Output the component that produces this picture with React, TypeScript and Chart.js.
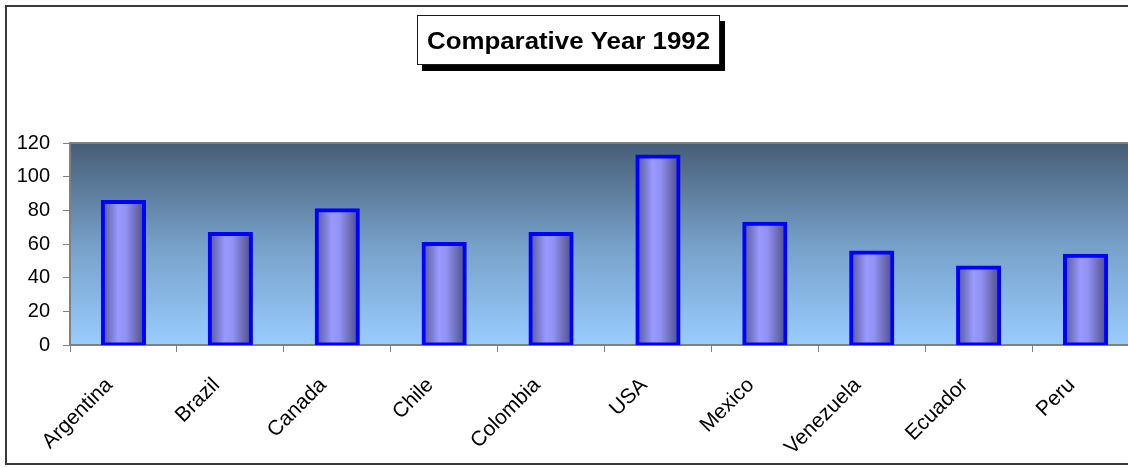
import React, { useEffect, useRef } from "react";
import { Chart, registerables } from "chart.js";

Chart.register(...registerables);

// Data
const countries = [
  "Argentina",
  "Brazil",
  "Canada",
  "Chile",
  "Colombia",
  "USA",
  "Mexico",
  "Venezuela",
  "Ecuador",
  "Peru",
];
const values1992 = [85, 66, 80, 60, 66, 112, 72, 55, 46, 53];
const yTickValues = [0, 20, 40, 60, 80, 100, 120];
const titleText = "Comparative Year 1992";

const FONT = '"Liberation Sans", Arial, Helvetica, sans-serif';
const CANVAS_W = 1140;
const CANVAS_H = 468;
const BAR_FRACTION = 0.385;

// Background, outer frame and boxed title with a drop shadow
const framePlugin = {
  id: "frame",
  beforeDraw(chart: any) {
    const { ctx, chartArea: a, width, height } = chart;
    ctx.save();
    ctx.fillStyle = "#ffffff";
    ctx.fillRect(0, 0, width, height);

    // outer chart border
    ctx.strokeStyle = "#3a3a3a";
    ctx.lineWidth = 2;
    ctx.strokeRect(6, 6, width - 10, 458);

    // plot area gradient
    const g = ctx.createLinearGradient(0, a.top, 0, a.bottom);
    g.addColorStop(0, "#475d76");
    g.addColorStop(0.5, "#76a0c8");
    g.addColorStop(1, "#99ccff");
    ctx.fillStyle = g;
    ctx.fillRect(a.left, a.top, a.right - a.left, a.bottom - a.top);
    ctx.strokeStyle = "#808080";
    ctx.lineWidth = 2;
    ctx.beginPath();
    ctx.moveTo(a.left, a.top);
    ctx.lineTo(a.right, a.top);
    ctx.stroke();

    // title box
    const bx = 417, by = 15, bw = 303, bh = 50;
    ctx.fillStyle = "#000000";
    ctx.fillRect(bx + 5, by + 6, bw, bh);
    ctx.fillStyle = "#ffffff";
    ctx.fillRect(bx, by, bw, bh);
    ctx.strokeStyle = "#1a1a1a";
    ctx.lineWidth = 1;
    ctx.strokeRect(bx + 0.5, by + 0.5, bw - 1, bh - 1);

    ctx.font = `bold 23px ${FONT}`;
    ctx.fillStyle = "#000000";
    ctx.textAlign = "center";
    ctx.textBaseline = "alphabetic";
    const measured = ctx.measureText(titleText).width;
    const sx = 283 / measured;
    ctx.translate(bx + bw / 2, 49);
    ctx.scale(sx, 1);
    ctx.fillText(titleText, 0, 0);
    ctx.restore();
  },
};

function barGradient(c: any) {
  const chart = c.chart;
  const xs = chart.scales && chart.scales.x;
  if (!chart.chartArea || !xs || c.type !== "data") return "#9999ff";
  const cx = xs.getPixelForValue(c.dataIndex);
  const half = ((xs.width / countries.length) * BAR_FRACTION) / 2 + 2;
  const g = chart.ctx.createLinearGradient(cx - half, 0, cx + half, 0);
  g.addColorStop(0, "#50508f");
  g.addColorStop(0.38, "#9999ff");
  g.addColorStop(0.55, "#9292f4");
  g.addColorStop(1, "#48487c");
  return g;
}

export default function App() {
  const canvasRef = useRef<HTMLCanvasElement | null>(null);

  useEffect(() => {
    document.body.style.margin = "0";
    const canvas = canvasRef.current;
    if (!canvas) return;

    const chart = new Chart(canvas, {
      type: "bar",
      data: {
        labels: countries,
        datasets: [
          {
            label: "1992",
            data: values1992,
            backgroundColor: barGradient,
            borderColor: "#0000ff",
            borderWidth: 4,
            borderSkipped: false,
            inflateAmount: 2,
            barPercentage: BAR_FRACTION,
            categoryPercentage: 1,
          },
        ],
      },
      options: {
        responsive: false,
        animation: false,
        devicePixelRatio: 1,
        layout: { padding: { top: 143, left: 0, right: 1, bottom: 0 } },
        plugins: {
          legend: { display: false },
          title: { display: false },
          tooltip: { enabled: false },
        },
        scales: {
          x: {
            offset: true,
            afterFit: (s: any) => {
              s.height = 123;
            },
            grid: {
              offset: true,
              drawOnChartArea: false,
              drawTicks: true,
              tickLength: 7,
              color: "#808080",
              lineWidth: 1,
            },
            border: { color: "#808080", width: 2 },
            ticks: {
              autoSkip: false,
              minRotation: 45,
              maxRotation: 45,
              padding: 21,
              labelOffset: -14,
              color: "#000000",
              font: { family: FONT, size: 21 },
            },
          },
          y: {
            min: yTickValues[0],
            max: yTickValues[yTickValues.length - 1],
            afterFit: (s: any) => {
              s.width = 70;
            },
            grid: {
              drawOnChartArea: false,
              drawTicks: true,
              tickLength: 7,
              color: "#808080",
              lineWidth: 1,
            },
            border: { color: "#808080", width: 2 },
            ticks: {
              stepSize: yTickValues[1] - yTickValues[0],
              padding: 13,
              color: "#000000",
              font: { family: FONT, size: 20 },
            },
          },
        },
      },
      plugins: [framePlugin],
    });

    return () => chart.destroy();
  }, []);

  return (
    <div style={{ width: 1128, height: CANVAS_H, overflow: "hidden", position: "relative" }}>
      <canvas
        ref={canvasRef}
        width={CANVAS_W}
        height={CANVAS_H}
        style={{ display: "block", width: CANVAS_W, height: CANVAS_H }}
      />
    </div>
  );
}
